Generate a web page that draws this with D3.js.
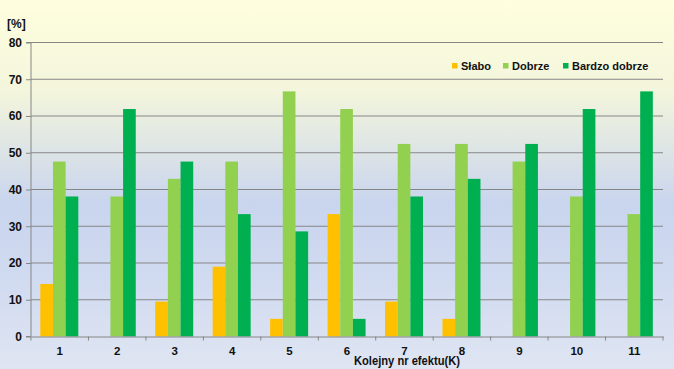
<!DOCTYPE html>
<html><head><meta charset="utf-8">
<script src="https://cdn.jsdelivr.net/npm/d3@7"></script>
<style>body{margin:0;padding:0;overflow:hidden}svg{display:block}</style>
</head><body>
<script>
const categories = ["1","2","3","4","5","6","7","8","9","10","11"];
const seriesNames = ["Słabo","Dobrze","Bardzo dobrze"];
const seriesColors = ["#FFC000","#92D050","#00B050"];
const slabo = [14.3, 0, 9.5, 19.0, 4.8, 33.3, 9.5, 4.8, 0, 0, 0];
const dobrze = [47.6, 38.1, 42.9, 47.6, 66.7, 61.9, 52.4, 52.4, 47.6, 38.1, 33.3];
const bardzo = [38.1, 61.9, 47.6, 33.3, 28.6, 4.8, 38.1, 42.9, 52.4, 61.9, 66.7];
const yTicks = [0,10,20,30,40,50,60,70,80];
const seriesValues = [slabo, dobrze, bardzo];

(function(){
const W = 674, H = 369;
const svg = d3.select("body").append("svg").attr("width", W).attr("height", H);
const defs = svg.append("defs");
const grad = defs.append("linearGradient").attr("id","bg").attr("x1",0).attr("y1",0).attr("x2",0).attr("y2",1);
[["0%","#FFFFDE"],["25%","#F3F5DC"],["55%","#C9D5EE"],["75%","#D0DAF0"],["100%","#DFE5F2"]].forEach(s=>grad.append("stop").attr("offset",s[0]).attr("stop-color",s[1]));
svg.append("rect").attr("width",W).attr("height",H).attr("fill","url(#bg)");

const pL = 31, pR = 663, pT = 42.5, pB = 336.5;
const x0 = d3.scaleBand().domain(categories).range([pL,pR]).padding(0);
const x1 = d3.scaleBand().domain(seriesNames).range([9.3, 47.3]).padding(0);
const y = d3.scaleLinear().domain([0,80]).range([pB, pT]);

svg.append("g").selectAll("line").data(yTicks.filter(d=>d>0)).join("line")
  .attr("x1",pL).attr("x2",pR).attr("y1",d=>y(d)).attr("y2",d=>y(d))
  .attr("stroke","#868686").attr("stroke-width",1);

const g = svg.append("g");
seriesNames.forEach((s,si)=>{
  g.append("g").selectAll("rect").data(categories.map((c,i)=>({c, v: seriesValues[si][i]}))).join("rect")
    .attr("x", d=>x0(d.c)+x1(s)).attr("width", x1.bandwidth())
    .attr("y", d=>y(d.v)).attr("height", d=>y(0)-y(d.v))
    .attr("fill", seriesColors[si]);
});

const narrow = "'Liberation Sans Narrow','Arial Narrow','Liberation Sans',Arial,sans-serif";
const yAxis = d3.axisLeft(y).tickValues(yTicks).tickSize(5).tickPadding(4);
const ya = svg.append("g").attr("transform",`translate(${pL},0)`).call(yAxis);
ya.select(".domain").attr("stroke","#868686").attr("d",`M-5,${pB}H0V${pT}H-5`);
ya.selectAll(".tick line").attr("stroke","#868686");
ya.selectAll(".tick text").attr("font-family",narrow)
  .attr("font-weight","bold").attr("font-size","12px").attr("fill","#111");

const xAxis = d3.axisBottom(x0).tickSize(0).tickPadding(10);
const xa = svg.append("g").attr("transform",`translate(0,${pB})`).call(xAxis);
xa.select(".domain").attr("stroke","#868686");
xa.selectAll(".tick text").attr("font-family","'Liberation Sans',Arial,sans-serif")
  .attr("font-weight","bold").attr("font-size","11.5px").attr("fill","#111");
xa.append("g").selectAll("line").data(categories.map(c=>x0(c)).concat([pR])).join("line")
  .attr("x1",d=>d).attr("x2",d=>d).attr("y1",0).attr("y2",4).attr("stroke","#868686");

svg.append("text").attr("x",7).attr("y",28).text("[%]")
  .attr("font-family",narrow).attr("font-weight","bold").attr("font-size","12px").attr("fill","#111");
svg.append("text").attr("x",354).attr("y",365).text("Kolejny nr efektu(K)")
  .attr("textLength",106).attr("lengthAdjust","spacingAndGlyphs")
  .attr("font-family",narrow).attr("font-weight","bold").attr("font-size","13px").attr("fill","#111");

const legX = [452, 503, 563];
const leg = svg.append("g");
seriesNames.forEach((s,i)=>{
  leg.append("rect").attr("x",legX[i]).attr("y",63).attr("width",5.5).attr("height",5.5).attr("fill",seriesColors[i]);
  leg.append("text").attr("x",legX[i]+9).attr("y",70).text(s)
    .attr("font-family","'Liberation Sans',Arial,sans-serif").attr("font-weight","bold")
    .attr("font-size","11px").attr("fill","#111");
});
})();
</script>
</body></html>
